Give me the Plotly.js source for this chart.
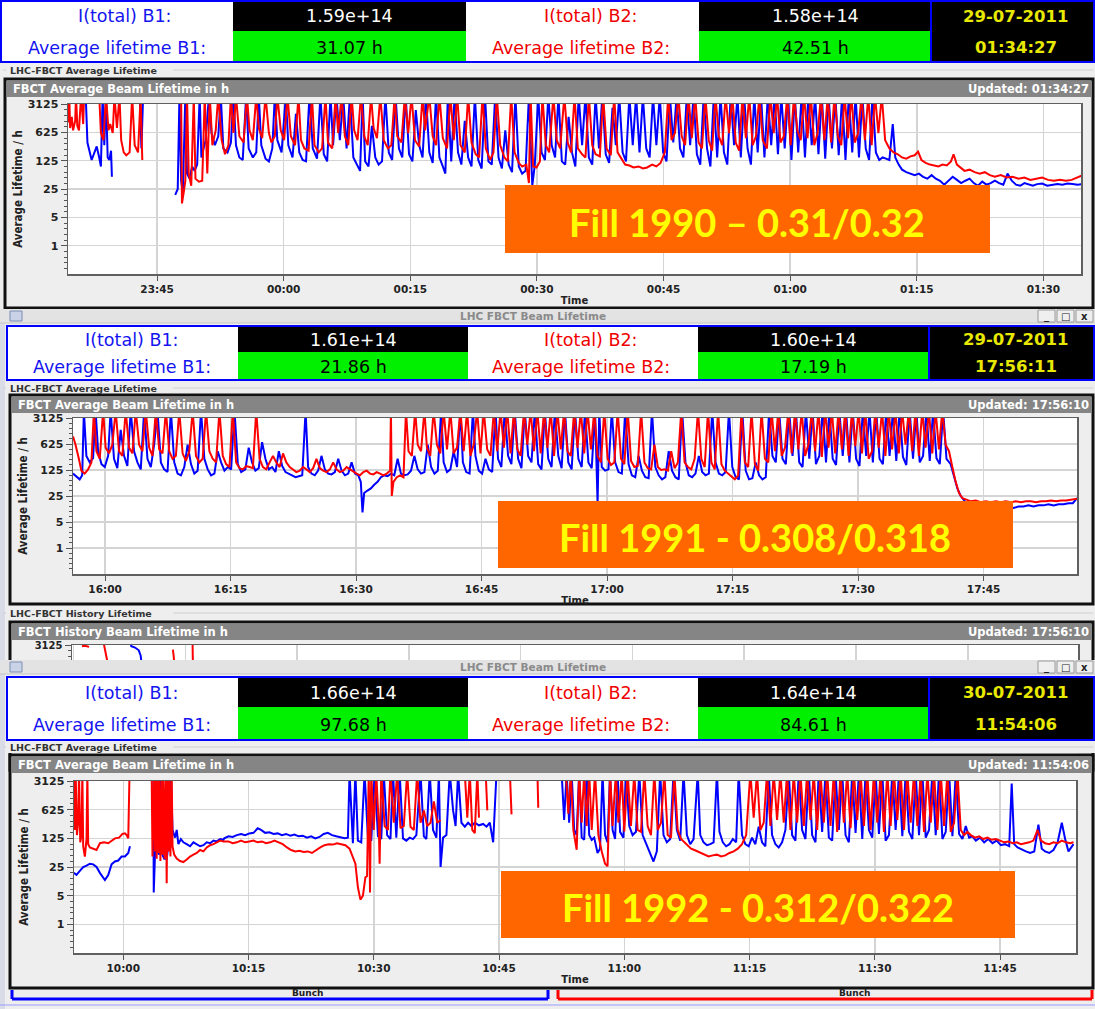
<!DOCTYPE html>
<html><head><meta charset="utf-8">
<script src="https://cdn.plot.ly/plotly-3.0.1.min.js"></script>
<style>html,body{margin:0;padding:0;background:#eeeeee;} #chart{width:1095px;height:1009px;}</style>
</head><body><div id="chart"></div>
<script>
// ================= DATA =================
const fillLabels = ['Fill 1990 \u2013 0.31/0.32', 'Fill 1991 - 0.308/0.318', 'Fill 1992 - 0.312/0.322'];
const windowStart = ['2011-07-28 23:34:27', '2011-07-29 15:56:10', '2011-07-30 09:54:06'];
const windowEnd   = ['2011-07-29 01:34:27', '2011-07-29 17:56:10', '2011-07-30 11:54:06'];
const firstTick   = ['2011-07-28 23:45:00', '2011-07-29 16:00:00', '2011-07-30 10:00:00'];
const updatedAt = ['01:34:27', '17:56:10', '11:54:06'];
const clockDate = ['29-07-2011', '29-07-2011', '30-07-2011'];
const clockTime = ['01:34:27', '17:56:11', '11:54:06'];
const iTotalB1 = ['1.59e+14', '1.61e+14', '1.66e+14'];
const iTotalB2 = ['1.58e+14', '1.60e+14', '1.64e+14'];
const lifetimeB1 = ['31.07 h', '21.86 h', '97.68 h'];
const lifetimeB2 = ['42.51 h', '17.19 h', '84.61 h'];
const yTickVals = [1, 5, 25, 125, 625, 3125];
const yTickText = ['1', '5', '25', '125', '625', '3125'];

// [minutes after window start, lifetime in h]  (null = no data)
const fill1990_b1 = [[2.1,5000],[2.3,350],[2.8,130],[3.1,200],[3.4,280],[3.7,150],[3.9,90],[4.1,5000],[4.3,300],[4.5,5000],[4.7,150],[4.9,130],[5.1,220],[5.2,50],[5.3,null],
[8.5,5000],[8.7,250],[8.9,5000],[9.0,null],
[12.7,18],[13.0,25],[13.2,5000],[13.4,40],[13.6,20],[13.9,5000],[14.1,60],[14.4,45],[14.7,90],[15.0,70],[15.3,100],[15.6,5000],[15.8,150],[16.3,400],[16.7,5000],
[17.0,600],[17.4,300],[17.8,500],[18.1,5000],[18.4,250],[18.9,200],[19.3,350],[19.6,5000],[19.9,300],[20.3,150],[20.7,130],[21.1,5000],[21.4,250],[21.9,150],[22.3,200],[22.6,5000],[22.9,300],[23.4,140],[23.8,120],[24.2,250],[24.5,5000],[24.8,400],[25.3,200],[25.8,5000],[26.1,300],[26.6,150],[27.0,1800],[27.4,200],[27.8,130],[28.2,120],[28.6,5000],[29.0,250],[29.5,140],[29.9,5000],[30.3,180],[30.7,120],[31.1,5000],[31.4,300],[31.8,5000],[32.2,400],[32.6,5000],[33.0,250],[33.4,5000],[33.8,150],[34.2,100],[34.6,70],[34.9,5000],[35.2,120],[35.6,90],[36.0,900],[36.4,150],[36.8,100],[37.2,120],[37.6,5000],[38.0,200],[38.4,130],[38.8,5000],[39.2,250],[39.6,150],[40.0,5000],[40.4,180],[40.8,120],[41.2,2200],[41.6,300],[42.0,150],[42.4,5000],[42.8,200],[43.2,110],[43.6,5000],[44.0,150],[44.4,90],[44.7,60],[45.0,5000],[45.4,120],[45.8,5000],[46.2,200],[46.6,100],[47.0,1200],[47.4,150],[47.8,90],[48.2,5000],[48.6,130],[49.0,80],[49.4,5000],[49.8,120],[50.2,100],[50.6,5000],[51.0,150],[51.4,80],[51.8,700],[52.2,100],[52.6,65],[53.0,5000],[53.4,90],[53.8,60],[54.2,70],[54.6,5000],[55.0,30],[55.3,100],[55.7,5000],[56.1,200],[56.5,130],[56.9,5000],[57.3,300],[57.7,150],[58.1,5000],[58.5,120],[58.9,100],[59.3,1500],[59.7,200],[60.1,90],[60.5,5000],[60.9,300],[61.3,5000],[61.7,150],[62.1,100],[62.5,5000],[62.9,250],[63.3,5000],[63.7,180],[64.1,110],[64.5,2500],[64.9,300],[65.3,5000],[65.7,200],[66.1,120],[66.5,5000],[66.9,300],[67.3,5000],[67.7,200],[68.1,5000],[68.5,250],[68.9,150],[69.3,5000],[69.7,300],[70.1,5000],[70.5,200],[70.9,120],[71.3,5000],[71.7,350],[72.1,5000],[72.5,250],[72.9,150],[73.3,5000],[73.7,300],[74.1,5000],[74.5,180],[74.9,100],[75.3,5000],[75.7,250],[76.1,90],[76.5,5000],[76.9,150],[77.3,5000],[77.7,200],[78.1,100],[78.5,5000],[78.9,300],[79.3,5000],[79.7,150],[80.1,5000],[80.5,250],[80.9,100],[81.3,5000],[81.7,200],[82.1,5000],[82.5,150],[82.9,5000],[83.3,300],[83.7,5000],[84.1,180],[84.5,5000],[84.9,250],[85.3,5000],[85.7,130],[86.1,5000],[86.5,200],[86.9,5000],[87.3,150],[87.7,5000],[88.1,300],[88.5,5000],[88.9,180],[89.3,5000],[89.7,140],[90.1,5000],[90.5,250],[90.9,5000],[91.3,170],[91.7,5000],[92.1,130],[92.5,5000],[92.9,200],[93.3,5000],[93.7,150],[94.1,5000],[94.5,250],[94.9,130],[95.3,5000],[95.7,200],[96.1,130],[96.5,150],[96.9,140],[97.3,130],[97.7,1000],[98.0,150],[98.4,100],[98.8,75],[99.3,65],[99.8,60],[100.3,55],[100.8,60],[101.3,50],[101.8,45],[102.3,55],[102.8,45],[103.3,40],[103.8,32],[104.3,40],[104.8,50],[105.3,42],[105.8,35],[106.3,40],[106.8,45],[107.3,35],[107.8,30],[108.3,38],[108.8,32],[109.3,35],[109.8,40],[110.3,35],[110.8,32],[111.3,60],[111.8,40],[112.3,32],[112.8,30],[113.3,35],[113.8,32],[114.3,30],[114.8,33],[115.4,34],[116.0,30],[116.6,32],[117.2,33],[117.8,32],[118.4,34],[119.0,33],[119.6,32],[120.2,33]];

const fill1990_b2 = [[0,1100],[0.15,5000],[0.25,800],[0.45,1500],[0.6,700],[0.85,1200],[0.95,5000],[1.1,900],[1.3,700],[1.45,1800],[1.55,5000],[1.8,1000],[1.9,5000],[2.0,null],
[3.7,5000],[3.9,600],[4.2,400],[4.5,5000],[4.8,700],[5.0,1000],[5.3,600],[5.5,5000],[5.8,800],[6.1,5000],[6.3,400],[6.6,200],[6.9,170],[7.3,200],[7.6,5000],[7.9,300],[8.3,200],[8.6,5000],[8.8,130],[8.95,null],
[13.4,5000],[13.5,11],[13.7,20],[13.9,40],[14.1,5000],[14.3,60],[14.6,30],[14.9,5000],[15.1,45],[15.5,38],[15.9,40],[16.2,5000],[16.5,60],[16.8,5000],[17.1,300],[17.5,700],[17.8,5000],[18.2,400],[18.6,180],[19.0,300],[19.3,5000],
[19.6,600],[19.9,5000],[20.3,500],[20.8,350],[21.2,5000],[21.5,700],[21.9,400],[22.3,5000],[22.6,800],[23.0,450],[23.4,5000],[23.8,600],[24.1,350],[24.5,500],[24.8,5000],[25.2,700],[25.6,400],[26.0,5000],[26.4,500],[26.9,300],[27.3,5000],[27.6,400],[28.0,250],[28.5,220],[28.9,5000],[29.2,300],[29.7,200],[30.1,250],[30.5,5000],[30.8,350],[31.3,250],[31.7,5000],[32.0,600],[32.4,5000],[32.8,500],[33.2,300],[33.6,5000],[33.9,700],[34.3,400],[34.7,5000],[35.1,500],[35.5,300],[35.9,5000],[36.2,800],[36.6,450],[37.0,5000],[37.4,400],[37.9,250],[38.3,300],[38.7,5000],[39.0,500],[39.5,350],[39.9,5000],[40.3,600],[40.7,5000],[41.1,400],[41.6,280],[42.0,5000],[42.3,700],[42.8,5000],[43.2,500],[43.6,300],[44.0,5000],[44.4,450],[44.9,250],[45.3,5000],[45.7,400],[46.1,5000],[46.5,300],[47.0,200],[47.4,5000],[47.8,350],[48.3,180],[48.7,150],[49.1,5000],[49.5,250],[50.0,130],[50.4,200],[50.8,5000],[51.2,300],[51.7,150],[52.1,120],[52.5,5000],[52.9,200],[53.4,110],[53.8,90],[54.3,100],[54.6,35],[54.8,5000],[55.1,90],[55.5,85],[55.9,120],[56.2,5000],[56.6,300],[57.0,200],[57.5,5000],[57.9,400],[58.3,250],[58.8,5000],[59.2,350],[59.6,200],[60.0,5000],[60.4,250],[60.9,180],[61.3,150],[61.7,5000],[62.1,300],[62.5,180],[63.0,160],[63.4,5000],[63.8,250],[64.3,170],[64.7,5000],[65.1,200],[65.6,140],[66.0,100],[66.5,95],[67.0,85],[67.6,90],[68.1,80],[68.6,85],[69.2,100],[69.7,90],[70.2,110],[70.7,200],[71.1,5000],[71.5,400],[71.9,600],[72.3,5000],[72.7,500],[73.1,300],[73.5,5000],[73.9,450],[74.3,5000],[74.7,350],[75.1,250],[75.5,5000],[75.9,400],[76.3,220],[76.7,5000],[77.1,500],[77.5,300],[77.9,5000],[78.3,600],[78.7,5000],[79.1,350],[79.5,220],[79.9,5000],[80.3,450],[80.7,5000],[81.1,300],[81.5,500],[81.9,5000],[82.3,400],[82.8,250],[83.2,5000],[83.6,600],[84.0,5000],[84.4,350],[84.8,500],[85.2,5000],[85.6,300],[86.0,5000],[86.4,700],[86.8,400],[87.2,5000],[87.6,450],[88.0,5000],[88.4,300],[88.8,600],[89.2,5000],[89.6,400],[90.0,5000],[90.4,350],[90.8,5000],[91.2,500],[91.6,300],[92.0,5000],[92.4,450],[92.8,5000],[93.2,350],[93.6,600],[94.0,5000],[94.4,400],[94.8,5000],[95.2,300],[95.6,5000],[96.0,600],[96.4,5000],[96.8,400],[97.3,250],[97.8,200],[98.3,180],[98.8,150],[99.3,140],[99.8,160],[100.3,170],[100.7,210],[101.1,130],[101.6,110],[102.1,100],[102.6,95],[103.1,90],[103.6,100],[104.1,95],[104.6,120],[104.9,180],[105.3,100],[105.8,80],[106.2,70],[106.8,75],[107.4,65],[108.0,60],[108.6,65],[109.2,55],[109.8,50],[110.5,55],[111.2,48],[111.9,50],[112.6,45],[113.3,48],[114.0,42],[114.7,45],[115.4,48],[116.1,42],[116.8,40],[117.5,42],[118.2,40],[118.9,42],[119.5,48],[120.2,55]];

const fill1991_b1 = [[0,100],[0.4,85],[0.8,70],[1.1,90],[1.3,5000],[1.6,300],[2.0,200],[2.4,260],[2.7,5000],[3.0,400],[3.4,180],[3.8,150],[4.2,300],[4.5,5000],[4.9,250],[5.3,140],[5.7,1500],[6.1,300],[6.5,160],[6.9,5000],[7.3,400],[7.7,200],[8.1,130],[8.5,5000],[8.9,250],[9.3,150],[9.7,600],[10.1,5000],[10.5,200],[10.9,130],[11.3,110],[11.7,5000],[12.1,200],[12.5,100],[12.9,90],[13.3,150],[13.7,600],[14.1,180],[14.5,100],[14.9,120],[15.3,5000],[15.7,250],[16.1,130],[16.5,90],[16.9,100],[17.3,400],[17.7,200],[18.1,120],[18.5,150],[18.9,130],[19.3,5000],[19.7,180],[20.1,110],[20.6,130],[21.0,500],[21.4,200],[21.8,120],[22.2,140],[22.6,700],[23.0,250],[23.4,130],[23.8,150],[24.2,110],[24.6,400],[25.0,160],[25.4,110],[25.8,100],[26.2,90],[26.6,80],[27.0,85],[27.4,90],[27.8,5000],[28.1,150],[28.5,100],[28.9,90],[29.3,120],[29.7,300],[30.1,130],[30.5,100],[30.9,95],[31.3,110],[31.7,250],[32.1,120],[32.5,90],[32.9,100],[33.3,200],[33.7,100],[34.1,90],[34.4,60],[34.6,9],[34.8,30],[35.2,35],[35.6,40],[36.0,50],[36.4,60],[36.8,80],[37.2,90],[37.6,85],[38.0,100],[38.4,90],[38.8,250],[39.2,100],[39.6,90],[40.0,95],[40.4,120],[40.8,300],[41.2,130],[41.6,100],[42.0,110],[42.4,600],[42.8,150],[43.2,100],[43.6,120],[44.0,5000],[44.3,200],[44.7,110],[45.1,130],[45.5,400],[45.9,150],[46.3,5000],[46.6,200],[47.0,110],[47.4,100],[47.8,5000],[48.1,300],[48.5,120],[48.9,100],[49.3,250],[49.7,130],[50.1,110],[50.5,5000],[50.8,250],[51.2,150],[51.6,5000],[52.0,300],[52.4,180],[52.8,5000],[53.2,250],[53.6,140],[54.0,5000],[54.4,300],[54.8,200],[55.2,5000],[55.6,180],[56.0,130],[56.4,5000],[56.8,250],[57.2,150],[57.6,5000],[58.0,300],[58.4,140],[58.8,5000],[59.2,200],[59.6,130],[60.0,5000],[60.4,250],[60.8,150],[61.2,5000],[61.6,200],[62.0,140],[62.4,5000],[62.7,15],[62.9,5000],[63.2,150],[63.6,120],[64.0,130],[64.4,5000],[64.8,200],[65.2,110],[65.6,100],[66.0,5000],[66.4,180],[66.8,90],[67.2,80],[67.6,300],[68.0,120],[68.4,80],[68.8,75],[69.2,5000],[69.6,150],[70.0,90],[70.4,70],[70.8,80],[71.2,400],[71.6,120],[72.0,80],[72.4,70],[72.8,5000],[73.2,200],[73.6,90],[74.0,80],[74.4,100],[74.8,300],[75.2,110],[75.6,90],[76.0,100],[76.4,5000],[76.8,200],[77.2,100],[77.6,90],[78.0,110],[78.4,5000],[78.8,150],[79.2,80],[79.6,70],[80.0,5000],[80.4,120],[80.8,70],[81.2,75],[81.6,200],[82.0,90],[82.4,70],[82.8,80],[83.2,5000],[83.6,300],[84.0,200],[84.4,5000],[84.8,250],[85.2,180],[85.6,5000],[86.0,300],[86.4,5000],[86.8,200],[87.2,150],[87.6,5000],[88.0,250],[88.4,5000],[88.8,180],[89.2,300],[89.6,5000],[90.0,200],[90.4,5000],[90.8,250],[91.2,170],[91.6,5000],[92.0,300],[92.4,5000],[92.8,200],[93.2,5000],[93.6,250],[94.0,160],[94.4,5000],[94.8,300],[95.2,5000],[95.6,200],[96.0,5000],[96.4,250],[96.8,180],[97.2,5000],[97.6,300],[98.0,5000],[98.4,220],[98.8,5000],[99.2,280],[99.6,170],[100.0,5000],[100.4,250],[100.8,5000],[101.2,200],[101.6,300],[102.0,5000],[102.4,220],[102.8,5000],[103.2,260],[103.6,180],[104.0,5000],[104.4,250],[104.9,180],[105.3,80],[105.7,40],[106.1,25],[106.6,18],[107.1,15],[107.6,14],[108.2,13],[108.8,12],[109.4,13],[110.0,12],[110.6,13],[111.2,12],[111.8,13],[112.4,12],[113.0,13],[113.6,13],[114.2,14],[114.8,13],[115.4,14],[116.0,14],[116.6,15],[117.2,14],[117.8,15],[118.4,15],[119.0,16],[119.5,16],[120.0,22]];

const fill1991_b2 = [[0,1000],[0.3,600],[0.7,250],[1.0,120],[1.4,100],[1.8,130],[2.2,200],[2.5,5000],[2.8,400],[3.2,250],[3.6,5000],[3.9,500],[4.3,350],[4.7,600],[5.1,5000],[5.5,400],[5.9,300],[6.3,5000],[6.7,500],[7.1,350],[7.5,5000],[7.9,600],[8.3,400],[8.7,5000],[9.1,500],[9.5,300],[9.9,5000],[10.3,450],[10.7,350],[11.1,5000],[11.5,400],[11.9,250],[12.3,300],[12.7,5000],[13.1,350],[13.5,220],[13.9,400],[14.3,5000],[14.7,300],[15.1,200],[15.5,250],[15.9,5000],[16.3,400],[16.7,250],[17.1,200],[17.5,5000],[17.9,300],[18.3,180],[18.7,150],[19.1,5000],[19.5,200],[19.9,140],[20.3,130],[20.7,160],[21.1,150],[21.5,140],[21.9,5000],[22.3,250],[22.7,150],[23.1,130],[23.5,200],[23.9,300],[24.3,200],[24.7,150],[25.1,350],[25.5,200],[25.9,150],[26.3,130],[26.7,110],[27.1,120],[27.5,150],[27.9,130],[28.3,110],[28.7,140],[29.1,250],[29.5,140],[29.9,120],[30.3,110],[30.7,130],[31.1,200],[31.5,130],[31.9,110],[32.3,120],[32.7,150],[33.1,130],[33.5,110],[33.9,100],[34.3,90],[34.7,110],[35.1,120],[35.5,100],[35.9,95],[36.3,110],[36.7,100],[37.1,90],[37.5,100],[37.9,120],[38.0,5000],[38.1,25],[38.3,60],[38.7,80],[39.1,90],[39.5,80],[39.8,5000],[40.1,400],[40.5,300],[40.9,5000],[41.2,600],[41.6,400],[42.0,5000],[42.3,500],[42.7,300],[43.1,5000],[43.5,600],[43.9,350],[44.3,5000],[44.7,450],[45.1,5000],[45.5,350],[45.9,500],[46.3,5000],[46.7,400],[47.1,5000],[47.5,300],[47.9,600],[48.3,5000],[48.7,350],[49.1,5000],[49.5,450],[49.9,300],[50.3,5000],[50.7,400],[51.1,5000],[51.5,500],[51.9,5000],[52.3,350],[52.7,5000],[53.1,450],[53.5,300],[53.9,5000],[54.3,600],[54.7,5000],[55.1,400],[55.5,5000],[55.9,350],[56.3,5000],[56.7,500],[57.1,5000],[57.5,300],[57.9,5000],[58.3,450],[58.7,5000],[59.1,400],[59.5,300],[59.9,5000],[60.3,500],[60.7,5000],[61.1,350],[61.5,5000],[61.9,450],[62.3,5000],[62.7,300],[63.1,200],[63.5,5000],[63.9,250],[64.3,170],[64.7,200],[65.1,5000],[65.5,250],[65.9,180],[66.3,5000],[66.7,220],[67.1,150],[67.5,160],[67.9,5000],[68.3,200],[68.7,140],[69.1,130],[69.5,600],[69.9,150],[70.3,125],[70.7,130],[71.1,120],[71.5,400],[71.9,140],[72.3,200],[72.7,5000],[73.1,200],[73.5,150],[73.9,130],[74.3,250],[74.7,5000],[75.1,250],[75.5,150],[75.9,5000],[76.3,200],[76.7,130],[77.1,5000],[77.5,180],[77.9,120],[78.3,100],[78.7,80],[79.1,70],[79.5,90],[79.9,5000],[80.3,200],[80.7,150],[81.1,5000],[81.5,180],[81.9,120],[82.3,5000],[82.7,250],[83.1,200],[83.5,5000],[83.9,400],[84.3,5000],[84.7,300],[85.1,500],[85.5,5000],[85.9,350],[86.3,5000],[86.7,450],[87.1,5000],[87.5,300],[87.9,600],[88.3,5000],[88.7,400],[89.1,5000],[89.5,280],[89.9,5000],[90.3,500],[90.7,5000],[91.1,350],[91.5,5000],[91.9,450],[92.3,5000],[92.7,300],[93.1,5000],[93.5,550],[93.9,5000],[94.3,350],[94.7,5000],[95.1,250],[95.5,400],[95.9,5000],[96.3,500],[96.7,5000],[97.1,300],[97.5,5000],[97.9,450],[98.3,5000],[98.7,350],[99.1,5000],[99.5,600],[99.9,5000],[100.3,400],[100.7,5000],[101.1,300],[101.5,5000],[101.9,500],[102.3,5000],[102.7,350],[103.1,5000],[103.5,450],[103.9,5000],[104.3,600],[104.7,400],[105.1,150],[105.5,60],[105.9,30],[106.3,22],[106.8,20],[107.3,18],[107.9,19],[108.5,17],[109.1,18],[109.7,17],[110.3,18],[110.9,17],[111.5,18],[112.1,17],[112.7,18],[113.3,17],[113.9,18],[114.5,18],[115.1,17],[115.7,18],[116.3,18],[116.9,19],[117.5,18],[118.1,19],[118.7,19],[119.3,20],[120.0,21]];

const fill1992_b1 = [[0,18],[0.3,16],[0.7,20],[1.1,25],[1.5,27],[1.9,30],[2.3,29],[2.7,25],[3.1,18],[3.7,12],[4.1,16],[4.5,29],[4.9,34],[5.3,36],[5.7,45],[6.1,45],[6.5,55],[6.7,80],[6.8,null],
[9.5,5000],[9.55,6],[9.7,50],[9.9,5000],[10.0,60],[10.2,50],[10.4,5000],[10.5,55],[10.8,40],[11.1,40],[11.4,120],[11.6,5000],[11.8,200],[12.1,130],[12.3,200],[12.5,90],[12.8,120],[13.1,100],[13.5,90],[13.9,80],[14.3,100],[14.7,90],[15.1,80],[15.5,85],[15.9,100],[16.3,95],[16.7,110],[17.1,105],[17.5,120],[17.9,115],[18.0,125],[18.5,140],[19.0,135],[19.5,150],[20.0,160],[20.5,150],[21.0,165],[21.5,170],[22.0,220],[22.4,200],[22.9,170],[23.4,175],[23.9,160],[24.4,165],[24.9,150],[25.4,160],[25.9,145],[26.4,155],[26.9,140],[27.4,145],[27.9,130],[28.4,140],[28.9,125],[29.4,135],[29.9,160],[30.4,170],[30.9,150],[31.4,140],[31.9,130],[32.4,125],[32.8,130],[33.0,5000],[33.4,95],[33.7,5000],[34.0,110],[34.4,100],[34.8,5000],[35.2,130],[35.6,110],[36.0,5000],[36.4,140],[36.8,120],[37.1,5000],[37.5,150],[37.9,120],[38.2,5000],[38.6,130],[39.0,5000],[39.4,125],[39.8,110],[40.2,130],[40.6,120],[41.0,150],[41.5,5000],[41.9,140],[42.2,120],[42.6,5000],[43.0,200],[43.4,130],[43.7,5000],[43.9,25],[44.2,130],[44.6,150],[45.0,5000],[45.4,600],[45.7,250],[46.0,5000],[46.4,300],[46.8,240],[47.2,300],[47.6,250],[48.0,300],[48.5,260],[49.0,280],[49.4,240],[49.8,300],[50.2,100],[50.6,5000],[50.9,null],
[58.4,5000],[58.7,350],[59.0,5000],[59.3,300],[59.6,5000],[59.9,200],[60.2,150],[60.5,5000],[60.8,130],[61.1,115],[61.4,5000],[61.7,150],[62.0,115],[62.3,130],[62.7,55],[63.0,70],[63.3,5000],[63.6,150],[63.9,100],[64.2,5000],[64.5,200],[64.8,120],[65.1,5000],[65.4,180],[65.8,130],[66.1,5000],[66.5,250],[66.9,150],[67.3,180],[67.7,5000],[68.1,150],[68.5,90],[68.9,60],[69.4,34],[69.8,60],[70.2,5000],[70.6,150],[71.0,100],[71.4,120],[71.8,5000],[72.2,200],[72.6,110],[73.0,5000],[73.4,150],[73.8,90],[74.2,120],[74.7,5000],[75.0,150],[75.4,100],[75.8,85],[76.2,90],[76.6,100],[77.0,5000],[77.3,180],[77.7,100],[78.1,80],[78.5,90],[78.9,120],[79.3,100],[79.6,5000],[80.0,150],[80.4,90],[80.8,80],[81.2,130],[81.6,90],[82.0,240],[82.4,100],[82.8,80],[83.2,5000],[83.6,150],[84.0,90],[84.4,75],[84.8,100],[85.2,200],[85.6,5000],[86.0,150],[86.4,110],[86.8,5000],[87.2,200],[87.6,120],[88.0,5000],[88.4,150],[88.8,100],[89.2,5000],[89.6,180],[90.0,5000],[90.4,130],[90.8,110],[91.2,5000],[91.6,200],[92.0,5000],[92.4,150],[92.8,100],[93.2,5000],[93.6,170],[94.0,5000],[94.4,120],[94.8,5000],[95.2,200],[95.6,130],[96.0,5000],[96.4,160],[96.8,5000],[97.2,110],[97.6,150],[98.0,5000],[98.4,200],[98.8,5000],[99.2,140],[99.6,5000],[100.0,180],[100.4,120],[100.8,5000],[101.2,150],[101.6,5000],[102.0,130],[102.4,200],[102.8,5000],[103.2,150],[103.6,5000],[104.0,120],[104.4,180],[104.8,5000],[105.2,140],[105.6,5000],[106.0,160],[106.4,120],[106.8,250],[107.2,130],[107.6,140],[108.0,110],[108.5,130],[109.0,100],[109.5,120],[110.0,95],[110.5,110],[111.0,85],[111.5,90],[112.0,80],[112.3,2700],[112.6,90],[113.0,75],[113.5,66],[114.0,60],[114.5,55],[115.0,60],[115.5,270],[115.9,70],[116.3,60],[116.8,55],[117.3,65],[117.8,100],[118.3,300],[118.7,120],[119.1,60],[119.7,90]];

const fill1992_b2 = [[0,5000],[0.1,200],[0.2,5000],[0.35,150],[0.5,300],[0.6,5000],[0.75,100],[0.9,150],[1.0,5000],[1.1,80],[1.3,45],[1.5,120],[1.6,5000],[1.7,90],[1.9,75],[2.3,70],[2.7,65],[3.1,95],[3.6,100],[4.1,95],[4.5,110],[4.9,125],[5.4,130],[5.8,160],[6.1,165],[6.3,150],[6.5,125],[6.65,5000],[6.7,null],
[9.3,5000],[9.4,45],[9.6,5000],[9.7,60],[9.8,5000],[9.9,40],[10.0,5000],[10.1,55],[10.2,5000],[10.35,35],[10.5,5000],[10.6,50],[10.7,5000],[10.85,40],[11.0,5000],[11.1,10],[11.2,5000],[11.3,60],[11.4,5000],[11.55,45],[11.7,5000],[11.8,80],[12.0,50],[12.3,40],[12.7,35],[13.1,33],[13.5,38],[13.9,45],[14.3,50],[14.7,55],[15.1,65],[15.5,60],[15.9,75],[16.3,85],[16.7,90],[17.1,100],[17.5,110],[17.9,105],[18.5,105],[19.0,95],[19.5,100],[20.0,110],[20.5,100],[21.0,105],[21.5,110],[22.0,100],[22.5,105],[23.0,95],[23.5,100],[24.0,110],[24.5,100],[25.0,90],[25.5,75],[26.0,65],[26.5,60],[27.0,62],[27.5,58],[28.0,60],[28.5,55],[29.0,65],[29.5,75],[30.0,85],[30.5,90],[31.0,88],[31.5,95],[32.0,90],[32.5,85],[33.0,70],[33.4,45],[33.7,30],[34.0,8],[34.3,4],[34.6,5],[34.9,14],[35.1,15],[35.3,5000],[35.45,6],[35.6,5000],[35.9,200],[36.2,5000],[36.5,250],[36.6,30],[36.8,5000],[37.2,250],[37.6,200],[37.9,5000],[38.3,300],[38.7,5000],[39.1,220],[39.5,250],[39.9,5000],[40.3,240],[40.7,200],[41.1,5000],[41.5,300],[41.9,600],[42.3,250],[42.7,300],[43.1,1000],[43.5,300],[43.9,350],[44.3,null],
[46.8,5000],[47.1,400],[47.4,5000],[47.7,200],[48.0,167],[48.3,5000],[48.5,400],[48.7,null],
[49.3,5000],[49.5,600],[49.6,null],
[52.2,5000],[52.4,480],[52.5,null],
[55.5,5000],[55.6,700],[55.7,null],
[58.9,5000],[59.2,500],[59.5,5000],[59.8,200],[60.2,66],[60.5,5000],[60.8,300],[61.1,5000],[61.4,250],[61.7,5000],[62.0,200],[62.4,5000],[62.8,150],[63.2,60],[63.6,30],[63.9,26],[64.2,5000],[64.5,250],[64.9,5000],[65.2,300],[65.6,5000],[65.9,184],[66.3,5000],[66.7,250],[67.1,5000],[67.5,200],[67.9,180],[68.3,5000],[68.7,250],[69.1,150],[69.5,5000],[69.9,200],[70.3,300],[70.7,5000],[71.1,150],[71.5,130],[71.9,5000],[72.3,200],[72.7,120],[73.1,100],[73.5,80],[73.9,70],[74.3,65],[74.7,60],[75.1,55],[75.5,50],[76.0,45],[76.5,48],[77.0,50],[77.5,45],[78.0,48],[78.5,55],[79.0,60],[79.5,70],[80.0,90],[80.5,150],[81.0,5000],[81.4,400],[81.8,5000],[82.2,200],[82.6,300],[83.0,5000],[83.4,250],[83.8,5000],[84.2,350],[84.6,5000],[85.0,300],[85.4,5000],[85.8,200],[86.2,5000],[86.6,300],[87.0,5000],[87.4,250],[87.8,5000],[88.2,350],[88.6,5000],[89.0,200],[89.4,5000],[89.8,300],[90.2,5000],[90.6,250],[91.0,5000],[91.4,180],[91.8,5000],[92.2,300],[92.6,5000],[93.0,220],[93.4,5000],[93.8,350],[94.2,5000],[94.6,250],[95.0,5000],[95.4,200],[95.8,5000],[96.2,300],[96.6,5000],[97.0,180],[97.4,5000],[97.8,250],[98.2,5000],[98.6,350],[99.0,5000],[99.4,200],[99.8,5000],[100.2,300],[100.6,5000],[101.0,250],[101.4,5000],[101.8,180],[102.2,5000],[102.6,300],[103.0,5000],[103.4,200],[103.8,5000],[104.2,250],[104.6,5000],[105.0,180],[105.4,300],[105.8,5000],[106.2,200],[106.6,150],[107.0,180],[107.4,150],[107.9,130],[108.4,140],[108.9,120],[109.4,130],[109.9,115],[110.4,120],[110.9,110],[111.4,100],[111.9,105],[112.4,95],[112.9,100],[113.4,90],[113.9,95],[114.4,100],[114.9,110],[115.4,200],[115.8,110],[116.3,95],[116.8,90],[117.3,100],[117.8,95],[118.3,110],[118.8,100],[119.3,95],[119.7,100]];

// partly hidden "History Lifetime" plot (clock time on 29-07-2011, lifetime in h)
const historyRange = ['2011-07-29 08:56:10', '2011-07-29 17:56:10'];
const history_b1 = [['09:27:00',5000],['09:28:00',2900],['09:30:00',2700],['09:32:00',2300],['09:33:00',1700],['09:33:40',1000],['09:34:00',400]];
const history_b2 = [['09:01:30',2900],['09:03:00',3000],['09:05:20',2800],['09:05:30',null],['09:12:30',5000],['09:13:40',2600],['09:14:40',1800],['09:15:30',1000],['09:16:00',400],['09:16:10',null],['09:50:20',2400],['09:50:50',1500],['09:51:20',500],['09:51:30',null],['10:00:50',5000],['10:01:10',500]];

// ================= DRAWING =================
const W = 1095, H = 1009;
const X = x => x / W, Y = y => 1 - y / H;
const shapes = [], ann = [];
const CLEAR = 'rgba(0,0,0,0)';
function box(x0, y0, x1, y1, fill, o) {
  o = o || {};
  shapes.push({type:'rect', xref:'paper', yref:'paper', x0:X(x0), x1:X(x1), y0:Y(y1), y1:Y(y0),
    fillcolor: fill || CLEAR, line:{color: o.lc || CLEAR, width: o.lw || 0}, layer: o.layer || 'below'});
}
function seg(x0, y0, x1, y1, color, w, layer) {
  shapes.push({type:'line', xref:'paper', yref:'paper', x0:X(x0), x1:X(x1), y0:Y(y0), y1:Y(y1),
    line:{color, width:w}, layer: layer || 'below'});
}
function txt(x, y, text, size, color, o) {
  o = o || {};
  ann.push({xref:'paper', yref:'paper', x:X(x), y:Y(y), text, showarrow:false,
    xanchor:o.xa || 'center', yanchor:'middle',
    font:{family:o.family || 'DejaVu Sans', size, color, weight:o.weight || 'normal'}});
}
const BLUE_T = '#1414f0', RED_T = '#f00000', YEL = '#e8e800', GREEN = '#00f000';
const HF = 17.5;

function header(i, top, mid, bot, left, c, layer, lx) {
  const L = {layer};
  box(left, top, c[0], bot, '#ffffff', L);
  box(c[0], top, c[1], mid, '#000000', L);
  box(c[0], mid, c[1], bot, GREEN, L);
  box(c[1], top, c[2], bot, '#ffffff', L);
  box(c[2], top, c[3], mid, '#000000', L);
  box(c[2], mid, c[3], bot, GREEN, L);
  box(c[3], top, 1095, bot, '#000000', L);
  box(left + 1, top + 1, 1094, bot, null, {lc:'#0000ff', lw:2, layer});
  seg(c[3], top, c[3], bot, '#0000ff', 2, layer);
  const r1 = (top + mid) / 2 + 1, r2 = (mid + bot) / 2 + 1;
  txt(lx[0], r1, 'I(total) B1:', HF, BLUE_T);
  txt(lx[1], r2, 'Average lifetime B1:', HF, BLUE_T);
  txt((c[0] + c[1]) / 2, r1, iTotalB1[i], HF, '#ffffff');
  txt((c[0] + c[1]) / 2, r2, lifetimeB1[i], HF, '#000000');
  txt(590, r1, 'I(total) B2:', HF, RED_T);
  txt(581, r2, 'Average lifetime B2:', HF, RED_T);
  txt((c[2] + c[3]) / 2, r1, iTotalB2[i], HF, '#ffffff');
  txt((c[2] + c[3]) / 2, r2, lifetimeB2[i], HF, '#000000');
  txt(1016, r1, clockDate[i], 16.5, YEL, {weight:'bold'});
  txt(1016, r2, clockTime[i], 16.5, YEL, {weight:'bold'});
}
function groupLabel(y, text, layer) {
  seg(3, y, 1093, y, '#d0d0d0', 1, layer);
  box(6, y - 6, 8 + text.length * 6.6, y + 6, '#eeeeee', {layer});
  txt(8, y, text, 9.5, '#333333', {xa:'left', weight:'bold'});
}
function frame(x0, y0, x1, y1, barText, upd, layer) {
  box(x0, y0, x1, y1, '#eeeeee', {lc:'#111111', lw:3, layer});
  box(x0 + 2, y0 + 2, x1 - 1, y0 + 18, '#858585', {layer});
  txt(x0 + 6, y0 + 10, barText, 11.5, '#ffffff', {xa:'left', weight:'bold'});
  txt(1091, y0 + 10, 'Updated: ' + upd, 11.5, '#ffffff', {xa:'right', weight:'bold'});
}
function windowBar(y0, layer) {
  box(0, y0, 1095, y0 + 14, '#e3e3e3', {layer});
  seg(0, y0 + 14, 1095, y0 + 14, '#c4c4c4', 1, layer);
  box(10, y0 + 2, 22, y0 + 12, '#c9d2e6', {lc:'#7c8db5', lw:1, layer});
  txt(533, y0 + 7, 'LHC FBCT Beam Lifetime', 10.5, '#8a8a8a', {weight:'bold'});
  [[1038, '_'], [1057, '\u25a1'], [1076, 'x']].forEach(b => {
    box(b[0], y0 + 1, b[0] + 17, y0 + 13, '#efefef', {lc:'#9a9a9a', lw:1, layer});
    txt(b[0] + 8.5, y0 + 7, b[1], 10, '#222222', {weight:'bold'});
  });
}

// ---- panel 1 ----
header(0, 0, 31, 62, 0, [233, 466, 699, 931], 'below', [124, 117]);
groupLabel(70, 'LHC-FBCT Average Lifetime', 'below');
frame(5, 79, 1093, 308, 'FBCT Average Beam Lifetime in h', updatedAt[0], 'below');
box(68, 104, 1081, 274, '#ffffff');
// ---- panel 2 ----
box(0, 309, 5, 1009, '#d9dbe6');
windowBar(309, 'below');
header(1, 325, 352, 380, 6, [238, 468, 698, 929], 'below', [131, 122]);
groupLabel(388, 'LHC-FBCT Average Lifetime', 'below');
frame(10, 395, 1093, 604, 'FBCT Average Beam Lifetime in h', updatedAt[1], 'below');
box(73, 418, 1077, 574, '#ffffff');
// ---- history (partly covered) ----
groupLabel(613, 'LHC-FBCT History Lifetime', 'below');
frame(10, 622, 1093, 770, 'FBCT History Beam Lifetime in h', updatedAt[1], 'below');
box(72, 645, 1078, 760, '#ffffff');
box(0, 660, 1095, 753, '#eeeeee', {layer:'above'});
box(0, 660, 5, 753, '#d9dbe6', {layer:'above'});
// ---- panel 3 ----
windowBar(660, 'above');
header(2, 676, 707, 740, 6, [238, 468, 698, 929], 'above', [131, 122]);
groupLabel(747, 'LHC-FBCT Average Lifetime', 'above');
frame(10, 755, 1093, 988, 'FBCT Average Beam Lifetime in h', updatedAt[2], 'below');
box(74, 781, 1076, 953, '#ffffff');
// bunch brackets
seg(12, 990, 12, 999, '#0000ff', 3); seg(12, 999, 548, 999, '#0000ff', 3); seg(548, 990, 548, 999, '#0000ff', 3);
seg(558, 990, 558, 999, '#ff0000', 3); seg(558, 999, 1092, 999, '#ff0000', 3); seg(1092, 990, 1092, 999, '#ff0000', 3);
seg(0, 1005, 1095, 1005, '#9a9aff', 1);
txt(307, 993, 'Bunch', 9, '#222222', {weight:'bold'});
txt(854, 993, 'Bunch', 9, '#222222', {weight:'bold'});

// orange fill labels
const orange = [[505, 185, 990, 253, 747, 222], [498, 501, 1013, 568, 755, 537], [501, 871, 1015, 938, 758, 907]];
orange.forEach((o, i) => {
  box(o[0], o[1], o[2], o[3], '#ff6600', {layer:'above'});
  txt(o[4], o[5], fillLabels[i], 38, '#ffff00', {family:'Lato, Open Sans, sans-serif', weight:'bold'});
});

// ---- axes ----
const plots = [[68, 104, 1081, 274], [73, 418, 1077, 574], [74, 781, 1076, 953]];
const minorVals = [];
[0.2, 1, 5, 25, 125, 625].forEach(b => { for (let j = 1; j < 5; j++) minorVals.push(b * Math.pow(5, j / 5)); });
const tickFont = {family:'DejaVu Sans', size:10.5, color:'#222222', weight:'bold'};
const layout = {width:W, height:H, margin:{l:0, r:0, t:0, b:0}, paper_bgcolor:'#eeeeee',
  plot_bgcolor:CLEAR, showlegend:false, shapes, annotations:ann, font:{family:'DejaVu Sans'}};
function yAxisBase(anchor, dom, range, vals, text) {
  return {domain:dom, anchor, type:'log', range, tickmode:'array', tickvals:vals, ticktext:text,
    ticks:'outside', ticklen:6, tickcolor:'#555555', tickfont:{family:'DejaVu Sans', size:11, color:'#222222', weight:'bold'},
    minor:{tickmode:'array', tickvals:minorVals, ticks:'outside', ticklen:3, tickcolor:'#555555', showgrid:false},
    showgrid:true, gridcolor:'#d4d4d4', gridwidth:1.5, showline:true, mirror:true, linecolor:'#606060', linewidth:1.5,
    zeroline:false, fixedrange:true};
}
plots.forEach((p, i) => {
  const s = i ? String(i + 1) : '';
  layout['xaxis' + s] = {domain:[X(p[0]), X(p[2])], anchor:'y' + s, type:'date', range:[windowStart[i], windowEnd[i]],
    tick0:firstTick[i], dtick:900000, tickformat:'%H:%M', ticks:'outside', ticklen:5, tickcolor:'#555555',
    tickfont:tickFont, showgrid:true, gridcolor:'#d4d4d4', gridwidth:1.5, showline:true, mirror:true,
    linecolor:'#606060', linewidth:1.5, zeroline:false, fixedrange:true,
    title:{text:'Time', standoff:3, font:{family:'DejaVu Sans', size:10, color:'#222222', weight:'bold'}}};
  const ya = yAxisBase('x' + s, [Y(p[3]), Y(p[1])], [Math.log10(0.2), Math.log10(3125)], yTickVals, yTickText);
  ya.title = {text:'Average Lifetime / h', standoff:2, font:{family:'Liberation Sans Narrow, DejaVu Sans Condensed, sans-serif', size:11.5, color:'#222222', weight:'bold'}};
  layout['yaxis' + s] = ya;
});
// history subplot (only its top edge is visible)
layout.xaxis4 = {domain:[X(72), X(1078)], anchor:'y4', type:'date', range:historyRange, tick0:'2011-07-29 09:57:00',
  dtick:3600000, showticklabels:false, ticks:'', showgrid:true, gridcolor:'#d4d4d4', gridwidth:1.5,
  showline:true, mirror:true, linecolor:'#606060', linewidth:1.5, fixedrange:true};
layout.yaxis4 = yAxisBase('x4', [Y(750), Y(645)], [0.86, Math.log10(3125)], [3125], ['3125']);
layout.yaxis4.tickfont.size = 10;

function shift(start, min) {
  const t = Date.parse(start.replace(' ', 'T') + 'Z') + Math.round(min * 60000);
  return new Date(t).toISOString().replace('T', ' ').slice(0, 19);
}
function series(pairs, start, color, s) {
  return {type:'scatter', mode:'lines', x:pairs.map(p => shift(start, p[0])), y:pairs.map(p => p[1]),
    xaxis:'x' + s, yaxis:'y' + s, line:{color, width:2}, connectgaps:false, hoverinfo:'skip'};
}
const beams = [[fill1990_b1, fill1990_b2], [fill1991_b1, fill1991_b2], [fill1992_b1, fill1992_b2]];
const traces = [];
beams.forEach((b, i) => {
  const s = i ? String(i + 1) : '';
  traces.push(series(b[0], windowStart[i], '#0000ff', s));
  traces.push(series(b[1], windowStart[i], '#ff0000', s));
});
traces.push({type:'scatter', mode:'lines', x:history_b1.map(p => '2011-07-29 ' + p[0]), y:history_b1.map(p => p[1]),
  xaxis:'x4', yaxis:'y4', line:{color:'#0000ff', width:2}, hoverinfo:'skip'});
traces.push({type:'scatter', mode:'lines', x:history_b2.map(p => '2011-07-29 ' + p[0]), y:history_b2.map(p => p[1]),
  xaxis:'x4', yaxis:'y4', line:{color:'#ff0000', width:2}, connectgaps:false, hoverinfo:'skip'});

Plotly.newPlot('chart', traces, layout, {displayModeBar:false, staticPlot:true});
</script>
</body></html>
